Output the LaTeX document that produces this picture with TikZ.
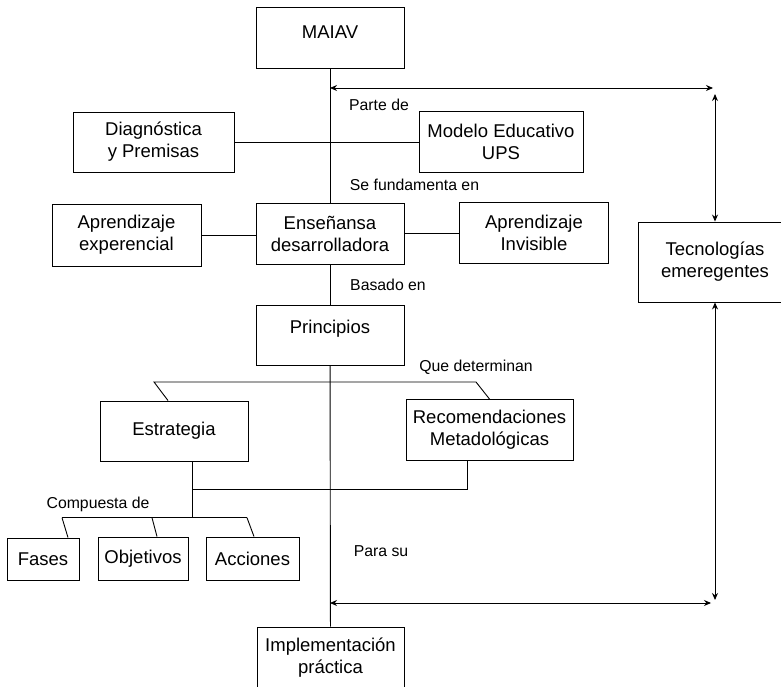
\documentclass[tikz,border=0pt]{standalone}
\usepackage{fontspec}
\setmainfont{Liberation Sans}
\usetikzlibrary{arrows.meta}
\begin{document}
\begin{tikzpicture}[x=1pt,y=-1pt,
  box/.style={draw=black, line width=0.9pt, fill=white, inner sep=0pt,
              align=center, font=\fontsize{18.5}{22}\selectfont},
  lbl/.style={inner sep=0pt, font=\fontsize{15.8}{19}\selectfont},
  link/.style={draw=black, line width=0.9pt},
  twoway/.style={link, {Stealth[length=7pt,width=6pt]}-{Stealth[length=7pt,width=6pt]}}]
\clip (0,0) rectangle (781,687);
\useasboundingbox (0,0) rectangle (781,687);

% boxes
\node[box, minimum width=148pt, minimum height=61pt,
      label={[yshift=5.5pt, font=\fontsize{18.5}{22}\selectfont]center:MAIAV}] (maiav) at (330,37.5) {};
\node[box, minimum width=161pt, minimum height=60pt] (diag) at (153.5,142) {Diagnóstica\\y Premisas};
\node[box, minimum width=164pt, minimum height=61pt] (modelo) at (501,141.5) {Modelo Educativo\\UPS};
\node[box, minimum width=149pt, minimum height=62pt] (aexp) at (126.5,235) {Aprendizaje\\experencial};
\node[box, minimum width=148pt, minimum height=61pt] (ens) at (330,233.5) {Enseñansa\\desarrolladora};
\node[box, minimum width=149pt, minimum height=61pt] (ainv) at (534,232.5) {Aprendizaje\\Invisible};
\node[box, minimum width=154pt, minimum height=80pt] (tec) at (715,262) {Tecnologías\\emeregentes};
\node[box, minimum width=148pt, minimum height=60pt,
      label={[yshift=6pt, font=\fontsize{18.5}{22}\selectfont]center:Principios}] (princ) at (330,335) {};
\node[box, minimum width=148pt, minimum height=60pt] (estr) at (174,431) {Estrategia};
\node[box, minimum width=167pt, minimum height=61pt] (recom) at (489.5,430) {Recomendaciones\\Metadológicas};
\node[box, minimum width=72pt, minimum height=42pt] (fases) at (43,559) {Fases};
\node[box, minimum width=90pt, minimum height=43pt] (obj) at (143,558.5) {Objetivos};
\node[box, minimum width=93pt, minimum height=43pt] (acc) at (252.5,558.5) {Acciones};
\node[box, minimum width=147pt, minimum height=61pt] (impl) at (330.5,657.5) {Implementación\\práctica};

% labels
\node[lbl] (lparte) at (379,105) {Parte de};
\node[lbl] (lfund) at (414.5,185) {Se fundamenta en};
\node[lbl] (lbasado) at (388,285) {Basado en};
\node[lbl] (lque) at (476,367) {Que determinan};
\node[lbl] (lcomp) at (98,504) {Compuesta de};
\node[lbl] (lpara) at (381,551) {Para su};

% free ends of connectors
\coordinate (topL) at (330,88);
\coordinate (topR) at (713,88);
\coordinate (topV) at (715,94);
\coordinate (botL) at (330,603);
\coordinate (botR) at (711,603);
\coordinate (botV) at (715,600);
\coordinate (brL) at (154,382);
\coordinate (brR) at (476,382);
\coordinate (j1) at (192,489);
\coordinate (j2) at (467,489);
\coordinate (j3) at (192,517.7);
\coordinate (cL) at (62,517.7);
\coordinate (cM) at (152,517.7);
\coordinate (cR) at (247,517.7);

% main spine
\draw[link] (maiav) -- (ens);
\draw[link] (ens) -- (princ);
\draw[link] (princ) -- (impl);

% side links
\draw[link] (diag.east) -- (diag.east -| modelo.west);
\draw[link] (aexp.east) -- (aexp.east -| ens.west);
\draw[link] (ens.east) -- (ens.east -| ainv.west);

% two-way links to Tecnologías emeregentes
\draw[twoway] (topL) -- (topR);
\draw[twoway] (topV) -- (tec.north);
\draw[twoway] (tec.south) -- (botV);
\draw[twoway] (botL) -- (botR);

% bracket to Estrategia and Recomendaciones
\draw[link] ([xshift=-6pt]estr.north) -- (brL) -- (brR) -- (recom.north);
\draw[link] ([xshift=18pt]estr.south) -- (j1) -- (j2) -- ([xshift=-22.5pt]recom.south);
\draw[link] (j1) -- (j3);

% bracket to Fases, Objetivos, Acciones
\draw[link] (cL) -- (cR);
\draw[link] (cL) -- ([xshift=25pt]fases.north);
\draw[link] (cM) -- ([xshift=14pt]obj.north);
\draw[link] (cR) -- ([xshift=1.5pt]acc.north);
\end{tikzpicture}
\end{document}
